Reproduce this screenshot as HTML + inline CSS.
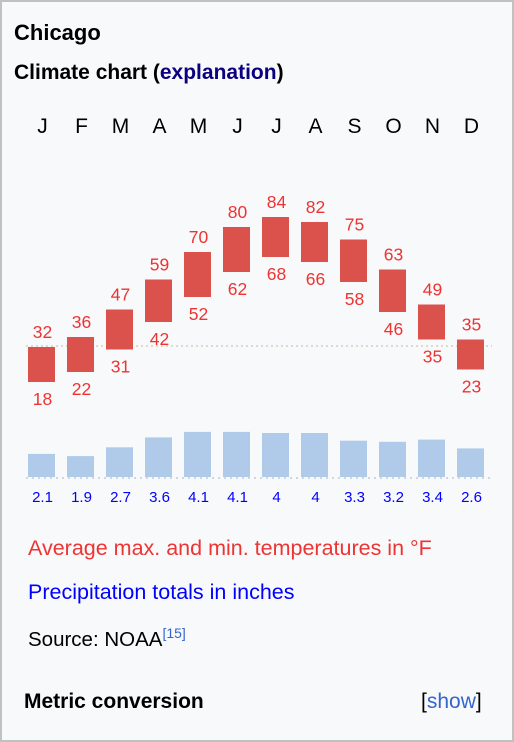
<!DOCTYPE html>
<html><head><meta charset="utf-8"><style>
body{margin:0;width:514px;height:742px;overflow:hidden;font-family:"Liberation Sans",Arial,sans-serif;background:#fff}
#box{position:absolute;left:0;top:0;width:510px;height:738px;border:2px solid #c0c1c3;background:#f8f9fa}
.t{position:absolute;white-space:nowrap}
</style></head><body>
<div id="box">
<div class="t" style="left:12px;top:18px;font-size:22px;font-weight:bold">Chicago</div>
<div class="t" style="left:12px;top:59px;font-size:21px;font-weight:bold">Climate chart (<span style="color:#0b0080">explanation</span>)</div>
<svg id="chart" width="510" height="520" style="position:absolute;left:0;top:0"></svg>
<div class="t" style="left:26px;top:534px;font-size:21.5px;color:#e33">Average max. and min. temperatures in °F</div>
<div class="t" style="left:26px;top:578px;font-size:21.5px;color:#00f">Precipitation totals in inches</div>
<div class="t" style="left:26px;top:623px;font-size:20.5px">Source: NOAA<sup style="font-size:14px;color:#3366cc">[15]</sup></div>
<div class="t" style="left:22px;top:688px;font-size:21px;font-weight:bold">Metric conversion</div>
<div class="t" style="left:419px;top:688px;font-size:21px">[<span style="color:#3366cc">show</span>]</div>
</div>
<script>
const months=["J","F","M","A","M","J","J","A","S","O","N","D"];
const maxT=[32,36,47,59,70,80,84,82,75,63,49,35];
const minT=[18,22,31,42,52,62,68,66,58,46,35,23];
const precip=[2.1,1.9,2.7,3.6,4.1,4.1,4,4,3.3,3.2,3.4,2.6];
const svg=document.getElementById('chart');const NS='http://www.w3.org/2000/svg';
const xL=i=>26+39*i, W=27;
const yT=t=>425-2.5*t;
const yP=p=>475-11*p;
function el(tag,attrs,txt){const e=document.createElementNS(NS,tag);for(const k in attrs)e.setAttribute(k,attrs[k]);if(txt!=null)e.textContent=txt;svg.appendChild(e);return e;}
let l=el('line',{x1:24,x2:490,y1:344,y2:344,stroke:'#c8b89a','stroke-dasharray':'2,3'});


months.forEach((m,i)=>{
 const cx=xL(i)+W/2+1;
 let t=el('text',{x:cx,y:131,'text-anchor':'middle','font-size':21,fill:'#000'},m);
 
 
 let r=el('rect',{x:xL(i),y:yT(maxT[i]),width:W,height:yT(minT[i])-yT(maxT[i]),fill:'#db524c'});
 
 
 let a=el('text',{x:cx,y:yT(maxT[i])-9,'text-anchor':'middle','font-size':17.5,fill:'#e33'},maxT[i]);
 
 
 let b=el('text',{x:cx,y:yT(minT[i])+23,'text-anchor':'middle','font-size':17.5,fill:'#e33'},minT[i]);
 
 
 let p=el('rect',{x:xL(i),y:yP(precip[i]),width:W,height:475-yP(precip[i]),fill:'#b0cbe9'});
 
 
 let pl=el('text',{x:cx,y:500,'text-anchor':'middle','font-size':15,fill:'#00f'},precip[i]);
 
 
});
let bl=el('line',{x1:24,x2:490,y1:476,y2:476,stroke:'#a8b4c4','stroke-dasharray':'2,4'});


</script>
</body></html>
